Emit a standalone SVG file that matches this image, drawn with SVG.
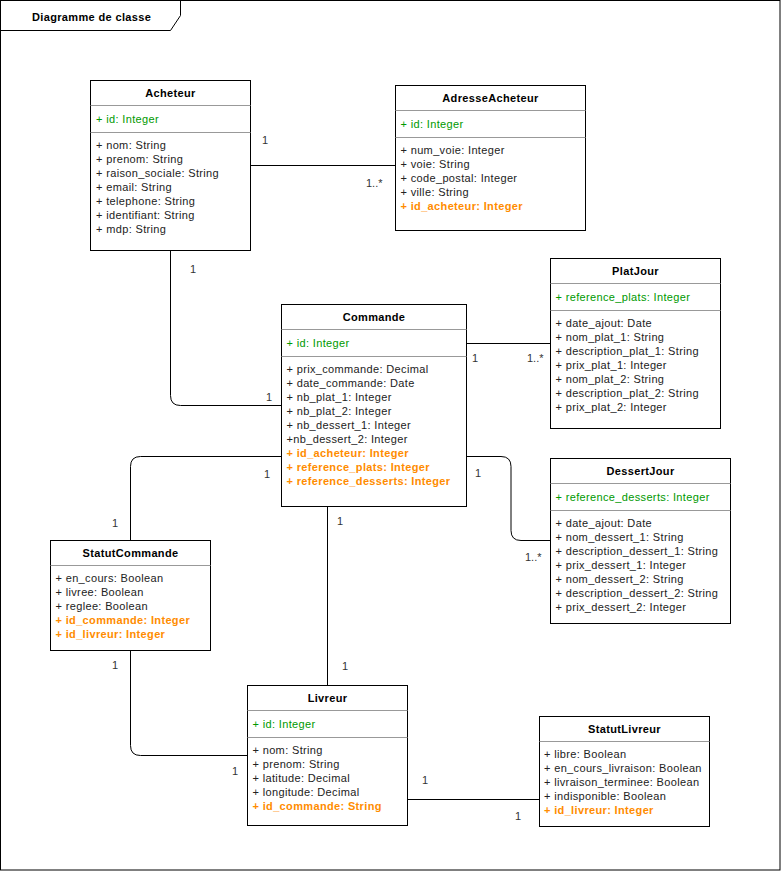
<svg xmlns="http://www.w3.org/2000/svg" width="781" height="871" viewBox="0 0 781 871">
<style>
text{font-family:"Liberation Sans",Arial,sans-serif;font-size:11px;fill:#222;letter-spacing:0.35px}
.t{font-weight:bold;text-anchor:middle;fill:#000}
.pk{fill:#009900}
.fk{fill:#FF8C00;font-weight:bold}
.box{fill:#fff;stroke:#000;stroke-width:1}
.sep{stroke:#999;stroke-width:1}
.c{fill:none;stroke:#000;stroke-width:1}
.m{fill:#333;letter-spacing:0}
</style>
<rect width="781" height="871" fill="#fff"/>
<g id="frame">
<rect x="0.5" y="0.5" width="779.5" height="869.5" fill="none" stroke="#000"/>
<path d="M0.5,30.5 H170.5 L180.5,15.5 V0.5" fill="none" stroke="#000"/>
<text x="32" y="20.5" style="font-weight:bold;fill:#000">Diagramme de classe</text>
</g>
<g id="connectors">
<path class="c" d="M250.5,165.5 H395.5"/>
<path class="c" d="M170.5,250.5 V395.5 Q170.5,405.5 180.5,405.5 H281.5"/>
<path class="c" d="M466.5,343.5 H550.5"/>
<path class="c" d="M466.5,456.5 H501 Q511,456.5 511,466.5 V530.5 Q511,540.5 521,540.5 H550.5"/>
<path class="c" d="M281.5,456.5 H140.5 Q130.5,456.5 130.5,466.5 V540.5"/>
<path class="c" d="M327.5,506.5 V685.5"/>
<path class="c" d="M130.5,650.5 V745.5 Q130.5,755.5 140.5,755.5 H247.5"/>
<path class="c" d="M407.5,799.5 H539.5"/>
<text class="m" x="262" y="144">1</text>
<text class="m" x="366" y="187">1..*</text>
<text class="m" x="190" y="273">1</text>
<text class="m" x="266" y="401">1</text>
<text class="m" x="472" y="362">1</text>
<text class="m" x="527" y="362">1..*</text>
<text class="m" x="475" y="477">1</text>
<text class="m" x="525" y="561">1..*</text>
<text class="m" x="264" y="478">1</text>
<text class="m" x="112" y="527">1</text>
<text class="m" x="337" y="525">1</text>
<text class="m" x="342" y="670">1</text>
<text class="m" x="112" y="669">1</text>
<text class="m" x="232" y="775">1</text>
<text class="m" x="422" y="784">1</text>
<text class="m" x="515" y="820">1</text>
</g>
<g id="Acheteur">
<rect class="box" x="90.5" y="80.5" width="160" height="170"/>
<line class="sep" x1="90.5" y1="105.5" x2="250.5" y2="105.5"/>
<line class="sep" x1="90.5" y1="132.5" x2="250.5" y2="132.5"/>
<text class="t" x="170.5" y="96.5">Acheteur</text>
<text class="pk" x="96" y="122.5">+ id: Integer</text>
<text x="96" y="149">+ nom: String</text>
<text x="96" y="163">+ prenom: String</text>
<text x="96" y="177">+ raison_sociale: String</text>
<text x="96" y="191">+ email: String</text>
<text x="96" y="205">+ telephone: String</text>
<text x="96" y="219">+ identifiant: String</text>
<text x="96" y="233">+ mdp: String</text>
</g>
<g id="AdresseAcheteur">
<rect class="box" x="395.5" y="85.5" width="190" height="145"/>
<line class="sep" x1="395.5" y1="110.5" x2="585.5" y2="110.5"/>
<line class="sep" x1="395.5" y1="137.5" x2="585.5" y2="137.5"/>
<text class="t" x="490.5" y="101.5">AdresseAcheteur</text>
<text class="pk" x="400.5" y="127.5">+ id: Integer</text>
<text x="400.5" y="154">+ num_voie: Integer</text>
<text x="400.5" y="168">+ voie: String</text>
<text x="400.5" y="182">+ code_postal: Integer</text>
<text x="400.5" y="196">+ ville: String</text>
<text class="fk" x="400.5" y="210">+ id_acheteur: Integer</text>
</g>
<g id="PlatJour">
<rect class="box" x="550.5" y="258.5" width="170" height="170"/>
<line class="sep" x1="550.5" y1="283.5" x2="720.5" y2="283.5"/>
<line class="sep" x1="550.5" y1="310.5" x2="720.5" y2="310.5"/>
<text class="t" x="635.5" y="274.5">PlatJour</text>
<text class="pk" x="555.5" y="300.5">+ reference_plats: Integer</text>
<text x="555.5" y="327">+ date_ajout: Date</text>
<text x="555.5" y="341">+ nom_plat_1: String</text>
<text x="555.5" y="355">+ description_plat_1: String</text>
<text x="555.5" y="369">+ prix_plat_1: Integer</text>
<text x="555.5" y="383">+ nom_plat_2: String</text>
<text x="555.5" y="397">+ description_plat_2: String</text>
<text x="555.5" y="411">+ prix_plat_2: Integer</text>
</g>
<g id="Commande">
<rect class="box" x="281.5" y="304.5" width="185" height="202"/>
<line class="sep" x1="281.5" y1="329.5" x2="466.5" y2="329.5"/>
<line class="sep" x1="281.5" y1="356.5" x2="466.5" y2="356.5"/>
<text class="t" x="374" y="320.5">Commande</text>
<text class="pk" x="286.5" y="346.5">+ id: Integer</text>
<text x="286.5" y="373">+ prix_commande: Decimal</text>
<text x="286.5" y="387">+ date_commande: Date</text>
<text x="286.5" y="401">+ nb_plat_1: Integer</text>
<text x="286.5" y="415">+ nb_plat_2: Integer</text>
<text x="286.5" y="429">+ nb_dessert_1: Integer</text>
<text x="286.5" y="443">+nb_dessert_2: Integer</text>
<text class="fk" x="286.5" y="457">+ id_acheteur: Integer</text>
<text class="fk" x="286.5" y="471">+ reference_plats: Integer</text>
<text class="fk" x="286.5" y="485">+ reference_desserts: Integer</text>
</g>
<g id="StatutCommande">
<rect class="box" x="50.5" y="540.5" width="160" height="110"/>
<line class="sep" x1="50.5" y1="565.5" x2="210.5" y2="565.5"/>
<text class="t" x="130.5" y="556.5">StatutCommande</text>
<text x="55.5" y="582">+ en_cours: Boolean</text>
<text x="55.5" y="596">+ livree: Boolean</text>
<text x="55.5" y="610">+ reglee: Boolean</text>
<text class="fk" x="55.5" y="624">+ id_commande: Integer</text>
<text class="fk" x="55.5" y="638">+ id_livreur: Integer</text>
</g>
<g id="DessertJour">
<rect class="box" x="550.5" y="458.5" width="180" height="165"/>
<line class="sep" x1="550.5" y1="483.5" x2="730.5" y2="483.5"/>
<line class="sep" x1="550.5" y1="510.5" x2="730.5" y2="510.5"/>
<text class="t" x="640.5" y="474.5">DessertJour</text>
<text class="pk" x="555.5" y="500.5">+ reference_desserts: Integer</text>
<text x="555.5" y="527">+ date_ajout: Date</text>
<text x="555.5" y="541">+ nom_dessert_1: String</text>
<text x="555.5" y="555">+ description_dessert_1: String</text>
<text x="555.5" y="569">+ prix_dessert_1: Integer</text>
<text x="555.5" y="583">+ nom_dessert_2: String</text>
<text x="555.5" y="597">+ description_dessert_2: String</text>
<text x="555.5" y="611">+ prix_dessert_2: Integer</text>
</g>
<g id="Livreur">
<rect class="box" x="247.5" y="685.5" width="160" height="140"/>
<line class="sep" x1="247.5" y1="710.5" x2="407.5" y2="710.5"/>
<line class="sep" x1="247.5" y1="737.5" x2="407.5" y2="737.5"/>
<text class="t" x="327.5" y="701.5">Livreur</text>
<text class="pk" x="252.5" y="727.5">+ id: Integer</text>
<text x="252.5" y="754">+ nom: String</text>
<text x="252.5" y="768">+ prenom: String</text>
<text x="252.5" y="782">+ latitude: Decimal</text>
<text x="252.5" y="796">+ longitude: Decimal</text>
<text class="fk" x="252.5" y="810">+ id_commande: String</text>
</g>
<g id="StatutLivreur">
<rect class="box" x="539.5" y="716.5" width="170" height="110"/>
<line class="sep" x1="539.5" y1="741.5" x2="709.5" y2="741.5"/>
<text class="t" x="624.5" y="732.5">StatutLivreur</text>
<text x="544" y="758">+ libre: Boolean</text>
<text x="544" y="772">+ en_cours_livraison: Boolean</text>
<text x="544" y="786">+ livraison_terminee: Boolean</text>
<text x="544" y="800">+ indisponible: Boolean</text>
<text class="fk" x="544" y="814">+ id_livreur: Integer</text>
</g>
</svg>
